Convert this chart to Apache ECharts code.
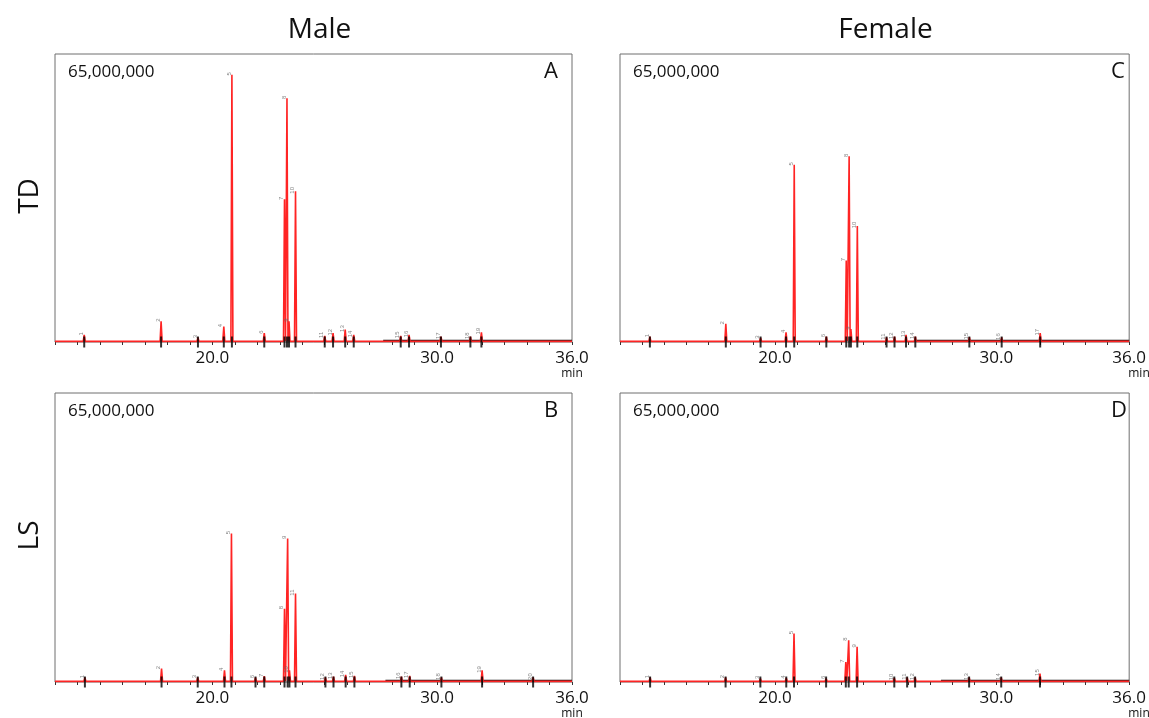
<!DOCTYPE html>
<html>
<head>
<meta charset="utf-8">
<script src="https://cdn.jsdelivr.net/npm/echarts@6/dist/echarts.min.js"></script>
<style>
  html, body { margin: 0; padding: 0; background: #fff; }
  #main { width: 1149px; height: 718px; }
</style>
</head>
<body>
<div id="main"></div>
<script>
// retention time axis (min) and full scale (x1,000,000 counts)
var timeMin = 13, timeMax = 36;
var timeLabels = [20, 30, 36];
var fullScale = 65;
var panelNames = ['A', 'B', 'C', 'D'];
var colTitles = ['Male', 'Female'];
var rowTitles = ['TD', 'LS'];

// peaks: retention time (min) and height (millions)
var timesA = [14.30, 17.72, 19.36, 20.51, 20.87, 22.31, 23.21, 23.32, 23.41, 23.70, 25.00, 25.37, 25.91, 26.29, 28.38, 28.75, 30.17, 31.48, 31.97];
var heightsA = [1.6, 4.7, 1.0, 3.5, 60.3, 2.0, 32.2, 55.0, 4.7, 34.0, 1.4, 2.0, 2.8, 1.6, 1.4, 1.6, 1.2, 1.2, 2.2];

var timesB = [14.33, 17.74, 19.35, 20.54, 20.85, 21.92, 22.31, 23.21, 23.35, 23.43, 23.70, 25.03, 25.39, 25.93, 26.32, 28.41, 28.78, 30.19, 32.00, 34.27];
var heightsB = [1.0, 3.0, 1.0, 2.6, 33.4, 1.0, 1.3, 16.5, 32.3, 2.6, 19.9, 1.0, 1.2, 1.6, 1.4, 1.2, 1.4, 1.0, 2.6, 1.0];

var timesC = [14.35, 17.78, 19.35, 20.50, 20.87, 22.32, 23.22, 23.35, 23.43, 23.72, 25.04, 25.40, 25.92, 26.34, 28.78, 30.24, 31.98];
var heightsC = [1.2, 4.1, 0.9, 2.2, 40.0, 1.2, 18.4, 41.9, 2.9, 26.2, 1.0, 1.2, 1.6, 1.2, 1.1, 1.0, 2.0];

var timesD = [14.36, 17.77, 19.34, 20.51, 20.86, 22.31, 23.20, 23.33, 23.71, 25.39, 25.97, 26.33, 28.77, 30.22, 31.97];
var heightsD = [1.0, 1.0, 0.8, 0.9, 10.9, 0.8, 4.5, 9.4, 7.9, 0.9, 1.0, 1.0, 1.0, 1.0, 1.9];

// where the drawn integration baseline starts (min)
var baseStarts = [27.6, 27.7, 26.4, 27.5];

var panelTimes = [timesA, timesB, timesC, timesD];
var panelHeights = [heightsA, heightsB, heightsC, heightsD];

var grids = [
    {left: 55, top: 54, width: 517, height: 288},
    {left: 55, top: 393, width: 517, height: 289},
    {left: 620, top: 54, width: 519, height: 288},
    {left: 620, top: 393, width: 519, height: 289}
];

var FONT = '"Open Sans", "Noto Sans", sans-serif';
var halfWidth = 0.045;
var base = 0.15;

function traceData(times, heights) {
    var pts = [[timeMin, base]];
    for (var i = 0; i < times.length; i++) {
        pts.push([times[i] - halfWidth, base]);
        pts.push([times[i], heights[i]]);
        pts.push([times[i] + halfWidth, base]);
    }
    pts.push([timeMax, base]);
    return pts;
}

var xAxes = [], yAxes = [], series = [], graphics = [];

grids.forEach(function (g, i) {
    g.show = true;
    g.borderColor = '#6e6e6e';
    g.borderWidth = 1;
    g.backgroundColor = '#fff';

    xAxes.push({
        type: 'value', gridIndex: i, min: timeMin, max: timeMax, interval: 1,
        axisLine: {show: false},
        axisTick: {show: true, length: 3, lineStyle: {color: '#333'}},
        splitLine: {show: false},
        axisLabel: {
            margin: 8, fontSize: 17, color: '#111', fontFamily: FONT,
            formatter: function (v) {
                return timeLabels.indexOf(v) >= 0 ? v.toFixed(1) : '';
            }
        }
    });
    yAxes.push({type: 'value', gridIndex: i, min: 0, max: fullScale, show: false});

    var times = panelTimes[i], heights = panelHeights[i];

    series.push({
        type: 'line', xAxisIndex: i, yAxisIndex: i,
        data: [[baseStarts[i], 0.3], [timeMax, 0.3]],
        symbol: 'none', silent: true,
        lineStyle: {color: '#1a1a1a', width: 2}
    });
    series.push({
        type: 'line', xAxisIndex: i, yAxisIndex: i,
        data: traceData(times, heights),
        symbol: 'none', silent: true, z: 3,
        lineStyle: {color: '#ff2424', width: 1.6}
    });
    // integration marks at peak bases
    series.push({
        type: 'scatter', xAxisIndex: i, yAxisIndex: i, z: 4,
        data: times.map(function (t) { return [t, 0]; }),
        symbol: 'rect', symbolSize: [2, 11], silent: true,
        itemStyle: {color: '#000'}
    });
    // tiny peak numbers
    series.push({
        type: 'scatter', xAxisIndex: i, yAxisIndex: i, z: 5,
        data: times.map(function (t, k) { return [t, heights[k]]; }),
        symbolSize: 0, silent: true,
        label: {
            show: true, position: 'top', distance: 1, rotate: 90,
            fontSize: 6, color: '#666',
            formatter: function (p) { return String(p.dataIndex + 1); }
        }
    });

    graphics.push({
        type: 'text', left: g.left + 13, top: g.top + 10,
        style: {text: '65,000,000', font: '17px ' + FONT, fill: '#111'}
    });
    graphics.push({
        type: 'text', left: g.left + g.width - 28, top: g.top + 7,
        style: {text: panelNames[i], font: '22px ' + FONT, fill: '#111'}
    });
    graphics.push({
        type: 'text', x: g.left + g.width, y: g.top + g.height + 32,
        style: {text: 'min', font: '12px ' + FONT, fill: '#111', textAlign: 'center', textVerticalAlign: 'middle'}
    });
});

colTitles.forEach(function (t, c) {
    var g = grids[c * 2];
    graphics.push({
        type: 'text', x: g.left + g.width / 2 + 6, y: 30,
        style: {text: t, font: '28px ' + FONT, fill: '#111', textAlign: 'center', textVerticalAlign: 'middle'}
    });
});
rowTitles.forEach(function (t, r) {
    var g = grids[r];
    graphics.push({
        type: 'text', x: 30, y: g.top + g.height / 2 - 2, rotation: Math.PI / 2,
        style: {text: t, font: '28px ' + FONT, fill: '#111', textAlign: 'center', textVerticalAlign: 'middle'}
    });
});

var chart = echarts.init(document.getElementById('main'), null, {renderer: 'canvas'});
chart.setOption({
    animation: false,
    backgroundColor: '#fff',
    grid: grids,
    xAxis: xAxes,
    yAxis: yAxes,
    series: series,
    graphic: graphics
});
</script>
</body>
</html>
